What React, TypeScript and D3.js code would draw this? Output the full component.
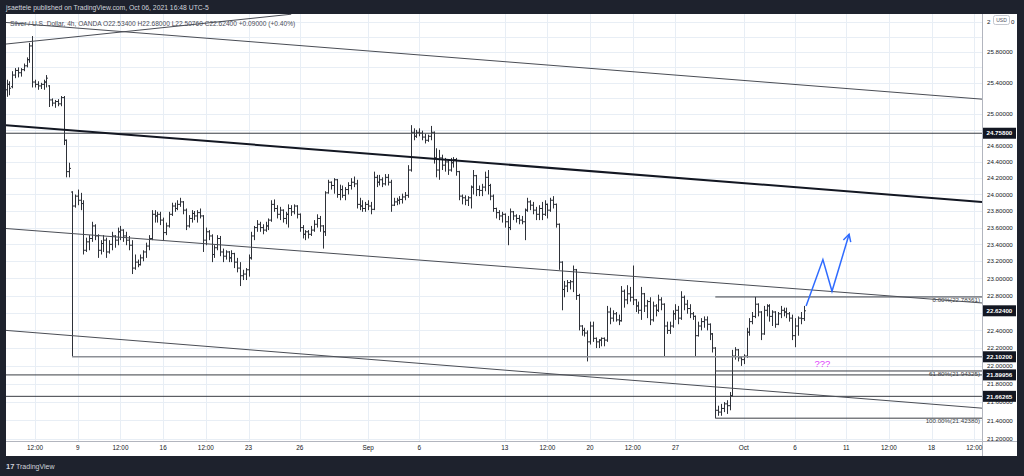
import React from "react";
import * as d3 from "d3";

// ---- OHLC data (Silver / USD, 4h, OANDA), bar index 0 = Aug 2 20:00 ----
const opens = [
  25.31, 25.38, 25.35, 25.50, 25.56, 25.53, 25.57, 25.62, 25.70, 25.88,
  25.41, 25.38, 25.36, 25.38, 25.41, 25.36, 25.18, 25.14, 25.16, 25.13,
  25.21, 24.67, 24.28, 24.03, 23.86, 23.98, 23.93, 23.89, 23.33, 23.43,
  23.47, 23.62, 23.50, 23.33, 23.41, 23.45, 23.31, 23.40, 23.50, 23.45,
  23.55, 23.57, 23.50, 23.45, 23.39, 23.12, 23.19, 23.16, 23.24, 23.31,
  23.38, 23.47, 23.76, 23.74, 23.76, 23.69, 23.54, 23.62, 23.76, 23.86,
  23.83, 23.88, 23.91, 23.81, 23.62, 23.71, 23.77, 23.74, 23.78, 23.74,
  23.45, 23.55, 23.50, 23.28, 23.36, 23.47, 23.31, 23.26, 23.31, 23.24,
  23.29, 23.19, 23.12, 23.03, 23.05, 23.10, 23.24, 23.50, 23.60, 23.64,
  23.60, 23.57, 23.62, 23.69, 23.88, 23.83, 23.76, 23.81, 23.71, 23.76,
  23.83, 23.79, 23.86, 23.76, 23.60, 23.52, 23.55, 23.52, 23.57, 23.64,
  23.71, 23.62, 23.55, 24.02, 24.15, 24.11, 24.18, 24.00, 24.06, 23.99,
  24.06, 24.11, 24.15, 24.13, 23.88, 23.86, 23.83, 23.88, 23.86, 23.82,
  24.21, 24.15, 24.18, 24.13, 24.21, 24.15, 23.87, 23.91, 23.93, 23.94,
  23.97, 23.99, 24.30, 24.77, 24.72, 24.77, 24.76, 24.71, 24.67, 24.72,
  24.77, 24.45, 24.30, 24.45, 24.36, 24.40, 24.30, 24.39, 24.43, 24.28,
  23.98, 23.96, 23.93, 23.96, 24.09, 24.23, 24.06, 24.05, 24.09, 24.21,
  24.11, 23.98, 23.83, 23.78, 23.74, 23.76, 23.67, 23.60, 23.79, 23.74,
  23.71, 23.69, 23.67, 23.81, 23.91, 23.87, 23.81, 23.76, 23.83, 23.76,
  23.88, 23.81, 23.93, 23.88, 23.64, 23.19, 22.87, 22.91, 22.95, 22.96,
  23.10, 22.80, 22.45, 22.40, 22.37, 22.27, 22.45, 22.31, 22.27, 22.29,
  22.31, 22.29, 22.61, 22.54, 22.59, 22.52, 22.51, 22.85, 22.75, 22.82,
  22.78, 22.75, 22.68, 22.63, 22.82, 22.68, 22.73, 22.52, 22.68, 22.63,
  22.75, 22.70, 22.45, 22.40, 22.45, 22.59, 22.63, 22.54, 22.78, 22.70,
  22.65, 22.59, 22.56, 22.34, 22.45, 22.50, 22.52, 22.47, 22.36, 22.20,
  21.51, 21.49, 21.53, 21.58, 21.56, 21.67, 22.11, 22.18, 22.09, 22.07,
  22.11, 22.38, 22.50, 22.56, 22.70, 22.61, 22.36, 22.63, 22.68, 22.56,
  22.61, 22.47, 22.59, 22.63, 22.61, 22.59, 22.54, 22.34, 22.45, 22.54,
  22.534,
];
const highs = [
  25.44, 25.42, 25.55, 25.59, 25.60, 25.59, 25.65, 25.73, 25.92, 26.01,
  25.44, 25.42, 25.40, 25.44, 25.50, 25.37, 25.20, 25.18, 25.19, 25.23,
  25.23, 24.68, 24.39, 24.04, 24.00, 24.06, 24.02, 23.93, 23.48, 23.51,
  23.67, 23.64, 23.52, 23.45, 23.51, 23.48, 23.45, 23.55, 23.51, 23.60,
  23.62, 23.58, 23.55, 23.50, 23.45, 23.28, 23.22, 23.28, 23.33, 23.42,
  23.51, 23.81, 23.81, 23.79, 23.79, 23.72, 23.66, 23.79, 23.90, 23.90,
  23.93, 23.96, 23.92, 23.83, 23.75, 23.81, 23.80, 23.81, 23.83, 23.75,
  23.60, 23.57, 23.52, 23.39, 23.51, 23.50, 23.35, 23.33, 23.32, 23.33,
  23.30, 23.24, 23.19, 23.10, 23.12, 23.28, 23.55, 23.62, 23.69, 23.67,
  23.64, 23.67, 23.71, 23.93, 23.94, 23.87, 23.85, 23.82, 23.79, 23.88,
  23.87, 23.88, 23.87, 23.77, 23.63, 23.57, 23.57, 23.62, 23.69, 23.76,
  23.74, 23.63, 24.04, 24.18, 24.16, 24.20, 24.19, 24.12, 24.11, 24.09,
  24.15, 24.20, 24.22, 24.18, 23.96, 23.93, 23.91, 23.93, 23.91, 24.28,
  24.24, 24.24, 24.21, 24.25, 24.25, 24.18, 23.96, 23.96, 23.98, 24.01,
  24.03, 24.36, 24.86, 24.82, 24.80, 24.82, 24.79, 24.75, 24.74, 24.85,
  24.78, 24.57, 24.55, 24.49, 24.45, 24.43, 24.45, 24.46, 24.45, 24.29,
  24.00, 23.99, 23.98, 24.11, 24.30, 24.24, 24.11, 24.13, 24.28, 24.30,
  24.13, 24.00, 23.84, 23.81, 23.79, 23.77, 23.74, 23.83, 23.80, 23.76,
  23.75, 23.74, 23.83, 23.96, 23.93, 23.91, 23.85, 23.87, 23.91, 23.93,
  23.89, 23.96, 23.98, 23.89, 23.65, 23.20, 22.97, 22.98, 22.98, 23.15,
  23.11, 22.82, 22.46, 22.43, 22.40, 22.50, 22.50, 22.32, 22.30, 22.32,
  22.32, 22.68, 22.66, 22.63, 22.61, 22.58, 22.91, 22.87, 22.92, 22.90,
  23.15, 22.76, 22.73, 22.90, 22.83, 22.75, 22.78, 22.73, 22.70, 22.81,
  22.78, 22.71, 22.50, 22.50, 22.63, 22.70, 22.68, 22.85, 22.80, 22.75,
  22.70, 22.61, 22.57, 22.50, 22.54, 22.56, 22.56, 22.48, 22.37, 22.21,
  21.56, 21.58, 21.60, 21.62, 21.71, 22.18, 22.21, 22.19, 22.11, 22.13,
  22.43, 22.54, 22.61, 22.7836, 22.71, 22.62, 22.68, 22.70, 22.70, 22.63,
  22.62, 22.61, 22.68, 22.66, 22.66, 22.61, 22.58, 22.54, 22.56, 22.61,
  22.68,
];
const lows = [
  25.22, 25.24, 25.33, 25.46, 25.47, 25.48, 25.55, 25.60, 25.66, 25.34,
  25.34, 25.31, 25.32, 25.31, 25.34, 25.09, 25.10, 25.08, 25.10, 25.10,
  24.61, 24.21, 24.21, 22.102, 23.84, 23.87, 23.81, 23.28, 23.31, 23.33,
  23.43, 23.45, 23.24, 23.28, 23.31, 23.24, 23.29, 23.33, 23.36, 23.39,
  23.45, 23.43, 23.39, 23.33, 23.05, 23.10, 23.13, 23.15, 23.20, 23.24,
  23.33, 23.45, 23.66, 23.66, 23.63, 23.45, 23.51, 23.60, 23.74, 23.79,
  23.81, 23.85, 23.76, 23.57, 23.60, 23.66, 23.69, 23.66, 23.71, 23.31,
  23.39, 23.45, 23.19, 23.24, 23.33, 23.26, 23.19, 23.22, 23.19, 23.19,
  23.12, 23.07, 22.91, 22.98, 22.98, 23.02, 23.22, 23.45, 23.55, 23.55,
  23.52, 23.55, 23.57, 23.67, 23.79, 23.71, 23.69, 23.66, 23.64, 23.60,
  23.74, 23.76, 23.71, 23.55, 23.47, 23.45, 23.47, 23.50, 23.55, 23.60,
  23.55, 23.35, 23.50, 24.01, 24.06, 24.01, 23.96, 23.93, 23.96, 23.93,
  24.00, 24.06, 24.09, 23.83, 23.81, 23.79, 23.79, 23.81, 23.76, 23.81,
  24.09, 24.11, 24.09, 24.11, 24.11, 23.79, 23.86, 23.87, 23.88, 23.89,
  23.93, 23.96, 24.28, 24.67, 24.70, 24.72, 24.67, 24.63, 24.65, 24.67,
  24.38, 24.21, 24.18, 24.30, 24.28, 24.24, 24.28, 24.33, 24.23, 23.93,
  23.88, 23.87, 23.86, 23.83, 24.00, 23.98, 23.98, 23.98, 24.04, 24.00,
  23.93, 23.79, 23.71, 23.69, 23.66, 23.60, 23.39, 23.57, 23.69, 23.66,
  23.64, 23.64, 23.45, 23.79, 23.81, 23.76, 23.69, 23.69, 23.69, 23.74,
  23.71, 23.79, 23.83, 23.60, 23.10, 22.63, 22.78, 22.84, 22.87, 22.84,
  22.75, 22.40, 22.34, 22.33, 22.05, 22.24, 22.27, 22.20, 22.20, 22.22,
  22.22, 22.27, 22.47, 22.50, 22.50, 22.46, 22.50, 22.66, 22.70, 22.73,
  22.69, 22.61, 22.59, 22.52, 22.61, 22.54, 22.46, 22.50, 22.56, 22.61,
  22.63, 22.10, 22.36, 22.36, 22.43, 22.52, 22.47, 22.52, 22.63, 22.59,
  22.54, 22.52, 22.10, 22.33, 22.40, 22.43, 22.40, 22.29, 22.15, 21.4238,
  21.45, 21.45, 21.49, 21.47, 21.51, 21.66, 22.07, 22.05, 22.00, 22.02,
  22.09, 22.34, 22.47, 22.54, 22.56, 22.29, 22.35, 22.56, 22.50, 22.45,
  22.43, 22.46, 22.54, 22.56, 22.54, 22.50, 22.29, 22.21, 22.34, 22.47,
  22.5076,
];
const closes = [
  25.38, 25.33, 25.50, 25.56, 25.53, 25.57, 25.62, 25.70, 25.88, 25.41,
  25.38, 25.36, 25.38, 25.41, 25.46, 25.18, 25.14, 25.16, 25.13, 25.21,
  24.67, 24.28, 24.32, 23.86, 23.98, 23.93, 23.89, 23.33, 23.43, 23.47,
  23.62, 23.50, 23.33, 23.41, 23.45, 23.31, 23.40, 23.50, 23.45, 23.55,
  23.57, 23.50, 23.45, 23.39, 23.12, 23.19, 23.16, 23.24, 23.31, 23.38,
  23.47, 23.76, 23.74, 23.76, 23.69, 23.54, 23.62, 23.76, 23.86, 23.83,
  23.88, 23.91, 23.81, 23.62, 23.71, 23.77, 23.74, 23.78, 23.74, 23.45,
  23.55, 23.50, 23.28, 23.36, 23.47, 23.31, 23.26, 23.31, 23.24, 23.29,
  23.19, 23.12, 23.03, 23.05, 23.10, 23.24, 23.50, 23.60, 23.64, 23.60,
  23.57, 23.62, 23.69, 23.88, 23.83, 23.76, 23.81, 23.71, 23.76, 23.83,
  23.79, 23.86, 23.76, 23.60, 23.52, 23.55, 23.52, 23.57, 23.64, 23.71,
  23.62, 23.55, 24.02, 24.15, 24.11, 24.18, 24.00, 24.06, 23.99, 24.06,
  24.11, 24.15, 24.13, 23.88, 23.86, 23.83, 23.88, 23.86, 23.82, 24.21,
  24.15, 24.18, 24.13, 24.21, 24.15, 23.87, 23.91, 23.93, 23.94, 23.97,
  23.99, 24.30, 24.77, 24.72, 24.77, 24.76, 24.71, 24.67, 24.72, 24.77,
  24.45, 24.30, 24.45, 24.36, 24.40, 24.30, 24.39, 24.43, 24.28, 23.98,
  23.96, 23.93, 23.96, 24.09, 24.23, 24.06, 24.05, 24.09, 24.21, 24.11,
  23.98, 23.83, 23.78, 23.74, 23.76, 23.67, 23.60, 23.79, 23.74, 23.71,
  23.69, 23.67, 23.81, 23.91, 23.87, 23.81, 23.76, 23.83, 23.76, 23.88,
  23.81, 23.93, 23.88, 23.64, 23.19, 22.87, 22.91, 22.95, 22.96, 23.10,
  22.80, 22.45, 22.40, 22.37, 22.27, 22.45, 22.31, 22.27, 22.29, 22.31,
  22.29, 22.61, 22.54, 22.59, 22.52, 22.51, 22.85, 22.75, 22.82, 22.78,
  22.75, 22.68, 22.63, 22.82, 22.68, 22.73, 22.52, 22.68, 22.63, 22.75,
  22.70, 22.45, 22.40, 22.45, 22.59, 22.63, 22.54, 22.78, 22.70, 22.65,
  22.59, 22.56, 22.34, 22.45, 22.50, 22.52, 22.47, 22.36, 22.20, 21.51,
  21.49, 21.53, 21.58, 21.56, 21.67, 22.11, 22.18, 22.09, 22.07, 22.11,
  22.38, 22.50, 22.56, 22.70, 22.61, 22.36, 22.63, 22.68, 22.56, 22.61,
  22.47, 22.59, 22.63, 22.61, 22.59, 22.54, 22.34, 22.45, 22.54, 22.534,
  22.624,
];

// ---- time axis ticks (bar index of labelled bar) ----
const timeTickLabels = ["12:00", "9", "12:00", "16", "12:00", "23", "26", "Sep", "6", "13", "12:00", "20", "12:00", "27", "Oct", "6", "11", "12:00", "18", "12:00"];
const timeTickIndex = [10, 25, 40, 55, 70, 85, 103, 127, 145, 175, 190, 205, 220, 235, 259, 277, 295, 310, 325, 340];

// ---- price axis ----
const priceGridValues = [26.2, 26.0, 25.8, 25.6, 25.4, 25.2, 25.0, 24.8, 24.6, 24.4, 24.2, 24.0, 23.8, 23.6, 23.4, 23.2, 23.0, 22.8, 22.6, 22.4, 22.2, 22.0, 21.8, 21.6, 21.4, 21.2];
const priceTickLabels = [26.2, 25.8, 25.4, 25.0, 24.6, 24.4, 24.2, 24.0, 23.8, 23.6, 23.4, 23.2, 23.0, 22.8, 22.4, 22.2, 22.0, 21.8, 21.6, 21.4, 21.2];

// ---- drawings ----
const levelPrices = [24.758, 22.102, 21.89956, 21.66265];
const levelStartIndex = [-1, 23, -1, -1];
const lastPrice = 22.624;

const fibNames = ["0.00%", "61.80%", "100.00%"];
const fibPrices = [22.78361, 21.94325, 21.4238];
const fibStartIndex = 249;

// trend lines: [index1, price1, index2, price2]
const thickLine = [-0.21, 24.86, 342.7, 23.91];
const thinLines = [
  [-0.21, 26.19, 342.7, 25.19],
  [-0.21, 25.905, 100, 26.3],
  [-0.21, 23.589, 342.7, 22.714],
  [-0.21, 22.4, 342.7, 21.533],
];

const arrowIndex = [280.9, 286.8, 290.0, 296.0];
const arrowPrice = [22.68, 23.22, 22.85, 23.52];

const FONT = "'Liberation Sans', Arial, sans-serif";

export default function App() {
  const W = 1024, H = 476;
  const L = 6, R = 982, T = 14, B = 441;
  const x = d3.scaleLinear().domain([-0.21, 342.7]).range([L, R]);
  const y = d3.scaleLog().domain([21.177, 26.303]).range([B, T]);

  const fmt = d3.format(".5f");

  let barPath = "";
  opens.forEach((o, i) => {
    const cx = Math.round(x(i)) + 0.5;
    const yh = y(highs[i]);
    const yl = y(lows[i]);
    const yo = y(o);
    const yc = y(closes[i]);
    barPath += `M${cx},${yh}V${yl}M${cx - 1.5},${yo}H${cx}M${cx},${yc}H${cx + 1.5}`;
  });

  const line = d3.line<[number, number]>().x((d) => x(d[0])).y((d) => y(d[1]));
  const arrowPts: [number, number][] = arrowIndex.map((v, i) => [v, arrowPrice[i]]);
  const n = arrowPts.length;
  const tipX = x(arrowPts[n - 1][0]), tipY = y(arrowPts[n - 1][1]);
  const prevX = x(arrowPts[n - 2][0]), prevY = y(arrowPts[n - 2][1]);
  const ang = Math.atan2(tipY - prevY, tipX - prevX);
  const ah = 8;
  const a1 = [tipX - ah * Math.cos(ang - 0.5), tipY - ah * Math.sin(ang - 0.5)];
  const a2 = [tipX - ah * Math.cos(ang + 0.5), tipY - ah * Math.sin(ang + 0.5)];

  const boxPrices = [levelPrices[0], lastPrice, levelPrices[1], levelPrices[2], levelPrices[3]];

  return (
    <svg width={W} height={H} style={{ position: "absolute", left: 0, top: 0, display: "block" }} fontFamily={FONT}>
      <defs>
        <clipPath id="plot">
          <rect x={L} y={T} width={R - L} height={B - T} />
        </clipPath>
      </defs>
      <rect width={W} height={H} fill="#1e222d" />
      <rect x={L} y={T} width={1017 - L} height={456 - T} fill="#ffffff" />

      {/* grid */}
      <g stroke="#e8eef5" strokeWidth={1}>
        {timeTickIndex.map((v, i) => (
          <line key={"vg" + i} x1={Math.round(x(v)) + 0.5} x2={Math.round(x(v)) + 0.5} y1={T} y2={B} />
        ))}
        {priceGridValues.map((p, i) => (
          <line key={"hg" + i} x1={L} x2={R} y1={Math.round(y(p)) + 0.5} y2={Math.round(y(p)) + 0.5} />
        ))}
      </g>

      {/* header and legend */}
      <text x={6} y={10} fontSize={6.8} fill="#d1d4dc">jsaettele published on TradingView.com, Oct 06, 2021 16:48 UTC-5</text>
      <text x={10} y={26} fontSize={6.6} fill="#4a4d57">Silver / U.S. Dollar, 4h, OANDA  O22.53400  H22.68000  L22.50760  C22.62400  +0.09000 (+0.40%)</text>

      <g clipPath="url(#plot)">
        {/* bars */}
        <path d={barPath} stroke="#2e3138" strokeWidth={1} fill="none" />

        {/* horizontal levels */}
        {levelPrices.map((p, i) => (
          <line key={"lv" + i} x1={levelStartIndex[i] < 0 ? L : x(levelStartIndex[i])} x2={R}
            y1={y(p)} y2={y(p)} stroke={i === 1 ? "#8c8f96" : "#3a3d44"} strokeWidth={i === 1 ? 1.6 : 1} />
        ))}

        {/* fib retracement */}
        {fibPrices.map((p, i) => (
          <g key={"fib" + i}>
            <line x1={x(fibStartIndex)} x2={R} y1={y(p)} y2={y(p)} stroke="#3a3d44" strokeWidth={1} />
            <text x={R - 2} y={y(p) + 5} fontSize={6.2} fill="#3a3d44" textAnchor="end">
              {fibNames[i]}({fmt(p)})
            </text>
          </g>
        ))}

        {/* trend lines */}
        <path d={line([[thickLine[0], thickLine[1]], [thickLine[2], thickLine[3]]]) || ""} stroke="#131722" strokeWidth={2} fill="none" />
        {thinLines.map((t, i) => (
          <path key={"tl" + i} d={line([[t[0], t[1]], [t[2], t[3]]]) || ""} stroke="#4a4d55" strokeWidth={1} fill="none" />
        ))}

        {/* projected path */}
        <path d={line(arrowPts) || ""} stroke="#2f6bff" strokeWidth={1.5} fill="none" strokeLinejoin="miter" />
        <path d={`M${a1[0]},${a1[1]}L${tipX},${tipY}L${a2[0]},${a2[1]}`} stroke="#2f6bff" strokeWidth={1.5} fill="none" />

        <text x={x(286.6)} y={y(21.985)} fontSize={9.5} fill="#e040fb" textAnchor="middle">???</text>
      </g>

      {/* axes */}
      <line x1={R + 0.5} x2={R + 0.5} y1={T} y2={456} stroke="#b2b5be" />
      <line x1={L} x2={1017} y1={B + 0.5} y2={B + 0.5} stroke="#b2b5be" />

      {priceTickLabels.map((p, i) => (
        <text key={"pl" + i} x={987} y={y(p) + 2.2} fontSize={6.2} fill="#131722">{i === 0 ? "2" : fmt(p)}</text>
      ))}
      <text x={1011} y={y(priceTickLabels[0]) + 2.2} fontSize={6.2} fill="#131722">0</text>
      {boxPrices.map((p, i) => (
        <g key={"bx" + i}>
          <rect x={983} y={y(p) - 5.5} width={33} height={11} fill="#131722" />
          <text x={986.5} y={y(p) + 2.2} fontSize={6.2} fill="#ffffff" fontWeight="bold">{fmt(p)}</text>
        </g>
      ))}
      <rect x={993.5} y={15.5} width={16} height={9} rx={2} fill="#ffffff" stroke="#c3c6ce" />
      <text x={1001.5} y={22} fontSize={5} fill="#50535e" textAnchor="middle">USD</text>

      {timeTickIndex.map((v, i) => (
        <text key={"tx" + i} x={x(v)} y={450} fontSize={6.4} fill="#131722" textAnchor="middle">{timeTickLabels[i]}</text>
      ))}

      {/* footer logo */}
      <text x={6} y={469} fontSize={7.5} fill="#d1d4dc" fontWeight="bold">17</text>
      <text x={16} y={469} fontSize={7} fill="#d1d4dc">TradingView</text>
    </svg>
  );
}
